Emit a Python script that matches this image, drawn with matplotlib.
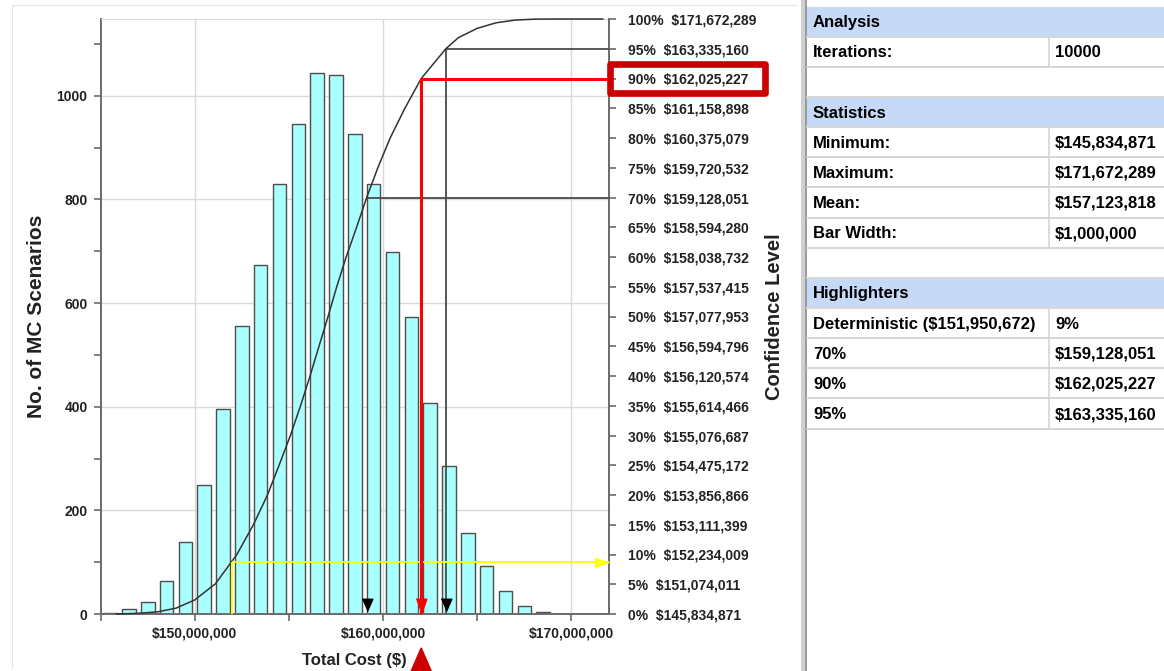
import matplotlib.pyplot as plt
import matplotlib.transforms as mtransforms
import numpy as np
from matplotlib.patches import Polygon, Rectangle
from matplotlib.ticker import FuncFormatter, MultipleLocator

plt.rcParams["font.family"] = ["Liberation Sans", "DejaVu Sans"]
plt.rcParams["font.weight"] = "bold"
plt.rcParams["axes.labelweight"] = "bold"

# Histogram of total cost, $1,000,000 bins (bin start in $M)
bin_starts_m = [145, 146, 147, 148, 149, 150, 151, 152, 153, 154, 155, 156,
                157, 158, 159, 160, 161, 162, 163, 164, 165, 166, 167, 168]
counts = [2, 10, 23, 63, 139, 249, 395, 555, 674, 829, 946, 1043,
          1039, 926, 830, 698, 573, 407, 286, 156, 93, 45, 16, 3]

# Confidence levels shown on the right axis
conf_levels = [0, 5, 10, 15, 20, 25, 30, 35, 40, 45, 50,
               55, 60, 65, 70, 75, 80, 85, 90, 95, 100]
conf_values = [145834871, 151074011, 152234009, 153111399, 153856866,
               154475172, 155076687, 155614466, 156120574, 156594796,
               157077953, 157537415, 158038732, 158594280, 159128051,
               159720532, 160375079, 161158898, 162025227, 163335160,
               171672289]

# Highlighters
det_value = 151950672
hl_70 = 159128051
hl_90 = 162025227
hl_95 = 163335160

# Side table
analysis_rows = [("Iterations:", "10000")]
stat_rows = [("Minimum:", "$145,834,871"), ("Maximum:", "$171,672,289"),
             ("Mean:", "$157,123,818"), ("Bar Width:", "$1,000,000")]
highlight_rows = [("Deterministic ($151,950,672)", "9%"), ("70%", "$159,128,051"),
                  ("90%", "$162,025,227"), ("95%", "$163,335,160")]

# cumulative curve: percentile points in the middle, histogram cumulative in the tails
edges = np.array(bin_starts_m) * 1e6 + 1e6
cum_pct = np.cumsum(counts) / np.sum(counts) * 100
lo = edges < conf_values[1]
hi = edges > conf_values[-2]
curve_x = np.concatenate([[conf_values[0]], edges[lo], conf_values[1:-1], edges[hi], [conf_values[-1]]])
curve_y = np.concatenate([[0], cum_pct[lo], conf_levels[1:-1], cum_pct[hi], [100]])
det_pct = np.interp(det_value, curve_x, curve_y)

W, H = 1164, 671
fig = plt.figure(figsize=(W / 100, H / 100), dpi=100)
ax = fig.add_axes([100.7 / W, 57 / H, (609 - 100.7) / W, (614 - 19) / H])

spine_c = "#6b6b6b"
txt_c = "#222222"
xmin, xmax = 145e6, 172e6

ax.bar(np.array(bin_starts_m) * 1e6 + 0.5e6, counts, width=0.72e6,
       color="#aaffff", edgecolor="#4d4d4d", linewidth=1.0, zorder=2)
ax.set_xlim(xmin, xmax)
ax.set_ylim(0, 1148)
ax.xaxis.set_major_locator(MultipleLocator(10e6))
ax.xaxis.set_minor_locator(MultipleLocator(5e6))
ax.yaxis.set_major_locator(MultipleLocator(200))
ax.yaxis.set_minor_locator(MultipleLocator(100))
ax.xaxis.set_major_formatter(FuncFormatter(lambda v, p: f"${v:,.0f}"))
ax.grid(which="major", color="#d9d9d9", linewidth=1.0)
ax.set_axisbelow(True)
ax.tick_params(axis="both", which="both", direction="out", length=5, width=1.2,
               color=spine_c, labelsize=10, labelcolor=txt_c)
ax.tick_params(axis="y", pad=4.5)
ax.tick_params(axis="x", pad=4)
ax.spines["top"].set_color("#d9d9d9")
ax.spines["right"].set_visible(False)
for s in ("left", "bottom"):
    ax.spines[s].set_color(spine_c)
    ax.spines[s].set_linewidth(1.4)

ax.set_ylabel("No. of MC Scenarios", fontsize=15, color=txt_c, va="center")
ax.yaxis.set_label_coords((37 - 100.7) / 508.3, 0.5)
ax.set_xlabel("Total Cost ($)", fontsize=12, color=txt_c, va="center")
ax.xaxis.set_label_coords(0.5, (614 - 660) / 595)

# right axis with confidence levels
ax2 = ax.twinx()
ax2.set_ylim(0, 100)
ax2.set_yticks(conf_levels, labels=[f"{p}%  ${v:,}" for p, v in zip(conf_levels, conf_values)])
ax2.tick_params(axis="y", direction="out", length=5, width=1.2, color=spine_c,
                labelsize=10, labelcolor=txt_c, pad=9)
for s in ("top", "left", "bottom"):
    ax2.spines[s].set_visible(False)
ax2.spines["right"].set_color(spine_c)
ax2.spines["right"].set_linewidth(1.4)
ax2.set_ylabel("Confidence Level", fontsize=14.5, color=txt_c, va="center")
ax2.yaxis.set_label_coords((775 - 100.7) / 508.3, 0.5)

# highlighter lines
gray_kw = dict(color="#4a4a4a", linewidth=1.3, zorder=3)
ax2.hlines(70, hl_70, xmax, **gray_kw)
ax2.hlines(95, hl_95, xmax, **gray_kw)
ax2.vlines(hl_95, 0, 95, **gray_kw)

ax2.plot(curve_x, curve_y, color="#333333", linewidth=1.1, zorder=4, clip_on=False)

yellow = "#ffff00"
ax2.vlines(det_value, 0, det_pct, color=yellow, linewidth=1.3, zorder=5)
ax2.hlines(det_pct, det_value, xmax, color=yellow, linewidth=1.3, zorder=5)
arrow_right = [(-1, 0.33), (-1, -0.33), (0, 0)]
ax2.plot(xmax, det_pct, marker=arrow_right, markersize=20, color=yellow,
         zorder=6, clip_on=False)

ax2.hlines(90, hl_90, xmax, color="red", linewidth=2.2, zorder=6)
ax2.vlines(hl_90, 0, 90, color="red", linewidth=2.2, zorder=6)
arrow_down = [(-0.35, 1.0), (0.35, 1.0), (0, 0)]
ax2.plot(hl_90, 0, marker=arrow_down, markersize=22, color="red", zorder=7, clip_on=False)

tri_down = [(-0.35, 1.0), (0.35, 1.0), (0, 0.2)]
ax2.plot([hl_70, hl_95], [0, 0], linestyle="none", marker=tri_down, markersize=22,
         color="black", zorder=7, clip_on=False)

# red box around the 90% label
box_tr = mtransforms.blended_transform_factory(ax2.transAxes, ax2.transData)
x0 = (610 - 100.7) / 508.3
x1 = (765 - 100.7) / 508.3
ax2.add_patch(Rectangle((x0, 90 - 2.47), x1 - x0, 2 * 2.47, transform=box_tr,
                        fill=False, edgecolor="#cc0000", linewidth=4.8,
                        joinstyle="round", clip_on=False, zorder=8))

# red pointer below the x axis
tri_tr = mtransforms.blended_transform_factory(ax.transData, ax.transAxes)
ax.add_patch(Polygon([(hl_90 - 0.59e6, -0.1), (hl_90 + 0.59e6, -0.1), (hl_90, -0.057)],
                     closed=True, transform=tri_tr, color="#cc0000", clip_on=False))

# overlay in figure pixels: frame, separator and side table
cv = fig.add_axes([0, 0, 1, 1])
cv.set_xlim(0, W)
cv.set_ylim(H, 0)
cv.axis("off")
cv.plot([12, 12], [5, 668], color="#e6e6e6", linewidth=0.8)
cv.plot([12, 797], [5, 5], color="#e6e6e6", linewidth=0.8)
cv.add_patch(Rectangle((800.5, 0), 4.5, H, color="#d0d0d0", linewidth=0))
cv.plot([806, 806], [0, H], color="#9a9a9a", linewidth=1.4)

rows = [("header", "Analysis", None)]
rows += [("row", a, b) for a, b in analysis_rows]
rows += [("blank", None, None), ("header", "Statistics", None)]
rows += [("row", a, b) for a, b in stat_rows]
rows += [("blank", None, None), ("header", "Highlighters", None)]
rows += [("row", a, b) for a, b in highlight_rows]

t_left, t_col, t_right = 807, 1049, 1164
r_top, r_h = 6.5, 30.15
for i, (kind, label, value) in enumerate(rows):
    y0 = r_top + i * r_h
    yc = y0 + r_h / 2 + 1
    if kind == "header":
        cv.add_patch(Rectangle((t_left, y0), t_right - t_left, r_h,
                               color="#c6d9f6", linewidth=0))
        cv.text(813, yc, label, fontsize=12, color="black", va="center")
    elif kind == "row":
        cv.plot([t_col, t_col], [y0, y0 + r_h], color="#d6d6d6", linewidth=1.2)
        cv.text(813, yc, label, fontsize=12, color="black", va="center")
        cv.text(1055, yc, value, fontsize=12, color="black", va="center")
    cv.plot([t_left, t_right], [y0 + r_h, y0 + r_h], color="#d6d6d6", linewidth=1.4)

fig.savefig("out.png", dpi=100, facecolor="white")
